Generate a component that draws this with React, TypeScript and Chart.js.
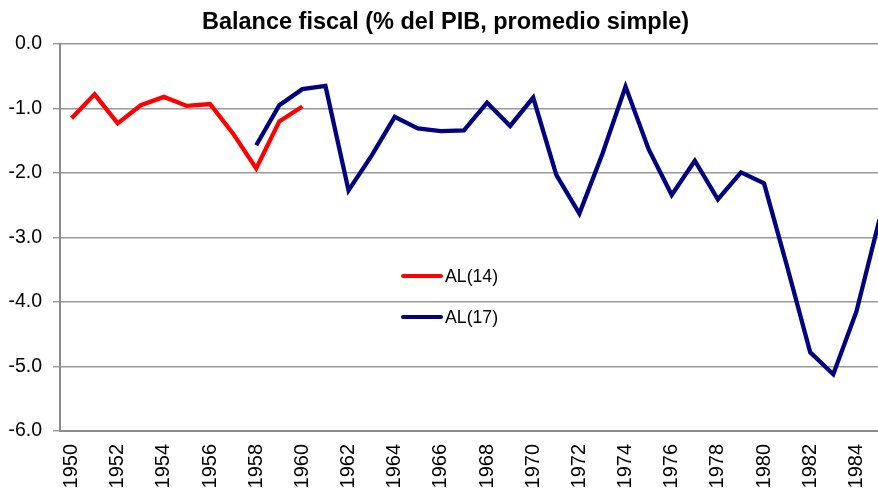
import React, { useEffect, useRef } from "react";
import { Chart, registerables } from "chart.js";

Chart.register(...registerables);

const years: string[] = [
  "1950", "1951", "1952", "1953", "1954", "1955", "1956", "1957", "1958", "1959",
  "1960", "1961", "1962", "1963", "1964", "1965", "1966", "1967", "1968", "1969",
  "1970", "1971", "1972", "1973", "1974", "1975", "1976", "1977", "1978", "1979",
  "1980", "1981", "1982", "1983", "1984", "1985",
];

const al14: (number | null)[] = [
  -1.15, -0.78, -1.23, -0.95, -0.82, -0.96, -0.93, -1.39, -1.93, -1.2, -0.97,
  null, null, null, null, null, null, null, null, null, null, null, null, null, null,
  null, null, null, null, null, null, null, null, null, null, null,
];

const al17: (number | null)[] = [
  null, null, null, null, null, null, null, null,
  -1.57, -0.95, -0.7, -0.65, -2.27, -1.73, -1.13, -1.31, -1.35, -1.34, -0.91, -1.27,
  -0.83, -2.03, -2.63, -1.7, -0.66, -1.63, -2.34, -1.81, -2.41, -1.99, -2.16, -3.45,
  -4.78, -5.12, -4.15, -2.72,
];

const seriesLabels = ["AL(14)", "AL(17)"];
const titleText = "Balance fiscal (% del PIB, promedio simple)";
const yTicks = [0, -1, -2, -3, -4, -5, -6];

const FONT = "'Liberation Sans', Arial, Helvetica, sans-serif";

const inlineLegend = {
  id: "inlineLegend",
  afterDraw(chart: any) {
    const ctx = chart.ctx;
    const rows = [276, 317];
    ctx.save();
    chart.data.datasets.forEach((ds: any, i: number) => {
      const y = rows[i];
      ctx.strokeStyle = ds.borderColor;
      ctx.lineWidth = 4;
      ctx.lineCap = "round";
      ctx.beginPath();
      ctx.moveTo(403, y);
      ctx.lineTo(441, y);
      ctx.stroke();
      ctx.fillStyle = "#000";
      ctx.font = `17.7px ${FONT}`;
      ctx.textAlign = "left";
      ctx.textBaseline = "middle";
      ctx.fillText(ds.label, 445, y + 1);
    });
    ctx.restore();
  },
};

export default function App() {
  const ref = useRef<HTMLCanvasElement | null>(null);

  useEffect(() => {
    if (!ref.current) return;
    const chart = new Chart(ref.current, {
      type: "line",
      data: {
        labels: years,
        datasets: [
          {
            label: seriesLabels[0],
            data: al14,
            borderColor: "#ff0000",
            backgroundColor: "#ff0000",
            borderWidth: 4.3,
            pointRadius: 0,
            tension: 0,
            spanGaps: false,
          },
          {
            label: seriesLabels[1],
            data: al17,
            borderColor: "#000080",
            backgroundColor: "#000080",
            borderWidth: 4.3,
            pointRadius: 0,
            tension: 0,
            spanGaps: false,
          },
        ],
      },
      options: {
        responsive: false,
        animation: false,
        devicePixelRatio: 1,
        layout: { padding: { top: 0, left: 0, right: 0, bottom: 0 } },
        plugins: {
          legend: { display: false },
          tooltip: { enabled: false },
          title: {
            display: true,
            text: titleText,
            color: "#000",
            font: { family: FONT, size: 23.5, weight: "bold" },
            padding: { top: 8, bottom: 7.8 },
          },
        },
        scales: {
          x: {
            type: "category",
            offset: true,
            grid: { display: true, color: "rgba(0,0,0,0)", drawTicks: false },
            border: { display: true, color: "#8c8c8c", width: 2 },
            ticks: {
              autoSkip: false,
              maxRotation: 90,
              minRotation: 90,
              padding: 13,
              color: "#000",
              font: { family: FONT, size: 20 },
              callback: (_v: any, i: number) =>
                Number(years[i]) % 2 === 0 ? years[i] : null,
            },
            afterFit: (s: any) => {
              s.height = 58;
              s.paddingLeft = 0;
              s.paddingRight = 0;
            },
          },
          y: {
            min: -6,
            max: 0,
            afterBuildTicks: (s: any) => {
              s.ticks = yTicks.map((v) => ({ value: v }));
            },
            grid: { color: "#999999", lineWidth: 1.4, tickLength: 7 },
            border: { display: true, color: "#8c8c8c", width: 2 },
            ticks: {
              padding: 11,
              color: "#000",
              font: { family: FONT, size: 19.5 },
              callback: (v: any) => Number(v).toFixed(1),
            },
            afterFit: (s: any) => {
              s.width = 60;
            },
          },
        },
      },
      plugins: [inlineLegend],
    });
    return () => chart.destroy();
  }, []);

  return (
    <div
      style={{
        position: "fixed",
        left: 0,
        top: 0,
        width: 878,
        height: 489,
        overflow: "hidden",
        background: "#fff",
      }}
    >
      <canvas ref={ref} width={891} height={489} style={{ display: "block" }} />
    </div>
  );
}
